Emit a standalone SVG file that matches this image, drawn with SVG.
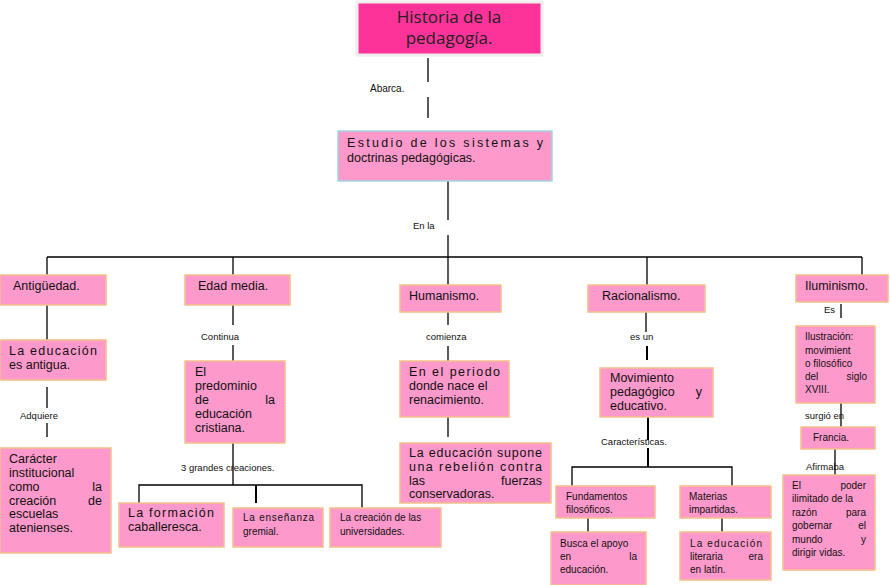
<svg xmlns="http://www.w3.org/2000/svg" width="890" height="585" viewBox="0 0 890 585">
<style>
.b{fill:#fe99cc;stroke:#f5c08a;stroke-width:1.5}
.t{font-family:"Liberation Sans",Arial,sans-serif;font-size:12.5px;fill:#111}
.s{font-family:"Liberation Sans",Arial,sans-serif;font-size:10px;fill:#111}
.l{font-family:"Liberation Sans",Arial,sans-serif;font-size:9.5px;fill:#111}
.c line,.c polyline{stroke:#000;stroke-width:1.3;fill:none}
</style>
<rect width="890" height="585" fill="#fff"/>
<g class="c" id="connectors">
<line x1="428" y1="58" x2="428" y2="82"/><line x1="428" y1="97" x2="428" y2="118"/>
<line x1="448" y1="181" x2="448" y2="220"/><line x1="448" y1="235" x2="448" y2="258"/>
<line x1="47" y1="257" x2="862" y2="257"/>
<line x1="47" y1="257" x2="47" y2="275"/><line x1="233" y1="257" x2="233" y2="275"/>
<line x1="448" y1="257" x2="448" y2="285"/><line x1="647" y1="257" x2="647" y2="285"/>
<line x1="862" y1="257" x2="862" y2="275"/>
<line x1="47" y1="305" x2="47" y2="340"/><line x1="47" y1="387" x2="47" y2="408"/><line x1="47" y1="423" x2="47" y2="437"/>
<line x1="233" y1="305" x2="233" y2="325"/><line x1="233" y1="345" x2="233" y2="361"/>
<line x1="233" y1="443" x2="233" y2="485"/>
<polyline points="139,503 139,485 362,485 362,508"/><line x1="256" y1="485" x2="256" y2="503" style="stroke-width:2"/>
<line x1="448" y1="312" x2="448" y2="325"/><line x1="448" y1="346" x2="448" y2="361"/>
<line x1="448" y1="417" x2="448" y2="437"/>
<line x1="646" y1="312" x2="646" y2="332"/><line x1="647" y1="346" x2="647" y2="360" style="stroke-width:2"/>
<line x1="648" y1="417" x2="648" y2="440" style="stroke-width:2"/><line x1="648" y1="448" x2="648" y2="467" style="stroke-width:2"/>
<polyline points="572,486 572,467 732,467 732,486"/>
<line x1="588" y1="518" x2="588" y2="532"/><line x1="722" y1="518" x2="722" y2="532"/>
<line x1="841" y1="304" x2="841" y2="318"/><line x1="841" y1="403" x2="841" y2="427"/>
<line x1="835" y1="449" x2="835" y2="475"/>
<text class="s" x="370" y="92">Abarca.</text>
<text class="l" x="413" y="229">En la</text>
<text class="l" x="20" y="419">Adquiere</text>
<text class="l" x="201" y="340">Continua</text>
<text class="l" x="181" y="471">3 grandes creaciones.</text>
<text class="l" x="426" y="340">comienza</text>
<text class="l" x="630" y="340">es un</text>
<text class="l" x="601" y="445">Características.</text>
<text class="l" x="824" y="313">Es</text>
<text class="l" x="805" y="419">surgió en</text>
<text class="l" x="806" y="470">Afirmaba</text>
</g>
<g id="n-title"><rect x="357" y="2" width="185" height="53" fill="#fe3399" stroke="#eee" stroke-width="3"/>
<text x="449" y="23" text-anchor="middle" font-family="Open Sans,sans-serif" font-size="17" fill="#222">Historia de la</text>
<text x="449" y="44" text-anchor="middle" font-family="Open Sans,sans-serif" font-size="17" fill="#222">pedagogía.</text></g>
<g id="n-estudio"><rect x="338" y="131" width="214" height="50" fill="#fe99cc" stroke="#9fd8e0" stroke-width="1.5"/>
<text class="t" x="347" y="147" textLength="196">Estudio de los sistemas y</text><text class="t" x="347" y="162">doctrinas pedagógicas.</text></g>
<g id="n-antig"><rect class="b" x="0" y="275" width="106" height="30"/><text class="t" x="13" y="290">Antigüedad.</text></g>
<g id="n-edad"><rect class="b" x="185" y="275" width="105" height="30"/><text class="t" x="198" y="290">Edad media.</text></g>
<g id="n-hum"><rect class="b" x="400" y="285" width="101" height="27"/><text class="t" x="409" y="300">Humanismo.</text></g>
<g id="n-rac"><rect class="b" x="588" y="285" width="117" height="27"/><text class="t" x="602" y="300">Racionalismo.</text></g>
<g id="n-ilu"><rect class="b" x="796" y="275" width="92" height="27"/><text class="t" x="805" y="290">Iluminismo.</text></g>
<g id="n-antigua"><rect class="b" x="0" y="340" width="106" height="40"/>
<text class="t" x="9" y="355" textLength="88">La educación</text><text class="t" x="9" y="369">es antigua.</text></g>
<g id="n-caracter"><rect class="b" x="0" y="448" width="111" height="105"/>
<text class="t" x="9" y="463">Carácter</text><text class="t" x="9" y="477">institucional</text>
<text class="t" x="9" y="491">como</text><text class="t" x="102" y="491" text-anchor="end">la</text>
<text class="t" x="9" y="505">creación</text><text class="t" x="102" y="505" text-anchor="end">de</text>
<text class="t" x="9" y="518">escuelas</text><text class="t" x="9" y="532">atenienses.</text></g>
<g id="n-predominio"><rect class="b" x="185" y="361" width="100" height="82"/>
<text class="t" x="195" y="376">El</text><text class="t" x="195" y="390">predominio</text>
<text class="t" x="195" y="404">de</text><text class="t" x="275" y="404" text-anchor="end">la</text>
<text class="t" x="195" y="418">educación</text><text class="t" x="195" y="432">cristiana.</text></g>
<g id="n-caball"><rect class="b" x="119" y="503" width="105" height="44"/>
<text class="t" x="128" y="517" textLength="86">La formación</text><text class="t" x="128" y="531">caballeresca.</text></g>
<g id="n-gremial"><rect class="b" x="233" y="508" width="90" height="39"/>
<text class="s" x="243" y="521" textLength="71">La enseñanza</text><text class="s" x="243" y="535">gremial.</text></g>
<g id="n-univ"><rect class="b" x="330" y="508" width="111" height="39"/>
<text class="s" x="340" y="521">La creación de las</text><text class="s" x="340" y="535">universidades.</text></g>
<g id="n-periodo"><rect class="b" x="400" y="361" width="109" height="56"/>
<text class="t" x="409" y="376" textLength="91">En el periodo</text><text class="t" x="409" y="390">donde nace el</text><text class="t" x="409" y="404">renacimiento.</text></g>
<g id="n-rebelion"><rect class="b" x="400" y="443" width="151" height="60"/>
<text class="t" x="409" y="457" textLength="133">La educación supone</text>
<text class="t" x="409" y="471" textLength="133">una rebelión contra</text>
<text class="t" x="409" y="485">las</text><text class="t" x="542" y="485" text-anchor="end">fuerzas</text>
<text class="t" x="409" y="498">conservadoras.</text></g>
<g id="n-movim"><rect class="b" x="600" y="368" width="113" height="49"/>
<text class="t" x="610" y="382">Movimiento</text>
<text class="t" x="610" y="396">pedagógico</text><text class="t" x="702" y="396" text-anchor="end">y</text>
<text class="t" x="610" y="410">educativo.</text></g>
<g id="n-fund"><rect class="b" x="556" y="486" width="99" height="32"/>
<text class="s" x="566" y="500">Fundamentos</text><text class="s" x="566" y="513">filosóficos.</text></g>
<g id="n-mat"><rect class="b" x="680" y="486" width="91" height="32"/>
<text class="s" x="689" y="500">Materias</text><text class="s" x="689" y="513">impartidas.</text></g>
<g id="n-busca"><rect class="b" x="551" y="532" width="95" height="53"/>
<text class="s" x="560" y="547">Busca el apoyo</text>
<text class="s" x="560" y="560">en</text><text class="s" x="637" y="560" text-anchor="end">la</text>
<text class="s" x="560" y="573">educación.</text></g>
<g id="n-latin"><rect class="b" x="680" y="532" width="91" height="48"/>
<text class="s" x="690" y="547" textLength="72">La educación</text>
<text class="s" x="690" y="560">literaria</text><text class="s" x="763" y="560" text-anchor="end">era</text>
<text class="s" x="690" y="573">en latín.</text></g>
<g id="n-ilustr"><rect class="b" x="796" y="326" width="79" height="77"/>
<text class="s" x="805" y="340">Ilustración:</text><text class="s" x="805" y="354">movimient</text>
<text class="s" x="805" y="367">o filosófico</text>
<text class="s" x="805" y="380">del</text><text class="s" x="867" y="380" text-anchor="end">siglo</text>
<text class="s" x="805" y="393">XVIII.</text></g>
<g id="n-francia"><rect class="b" x="801" y="427" width="74" height="22"/><text class="s" x="813" y="441">Francia.</text></g>
<g id="n-poder"><rect class="b" x="783" y="475" width="92" height="95"/>
<text class="s" x="792" y="489">El</text><text class="s" x="866" y="489" text-anchor="end">poder</text>
<text class="s" x="792" y="502">ilimitado de la</text>
<text class="s" x="792" y="516">razón</text><text class="s" x="866" y="516" text-anchor="end">para</text>
<text class="s" x="792" y="529">gobernar</text><text class="s" x="866" y="529" text-anchor="end">el</text>
<text class="s" x="792" y="543">mundo</text><text class="s" x="866" y="543" text-anchor="end">y</text>
<text class="s" x="792" y="556">dirigir vidas.</text></g>
</svg>
